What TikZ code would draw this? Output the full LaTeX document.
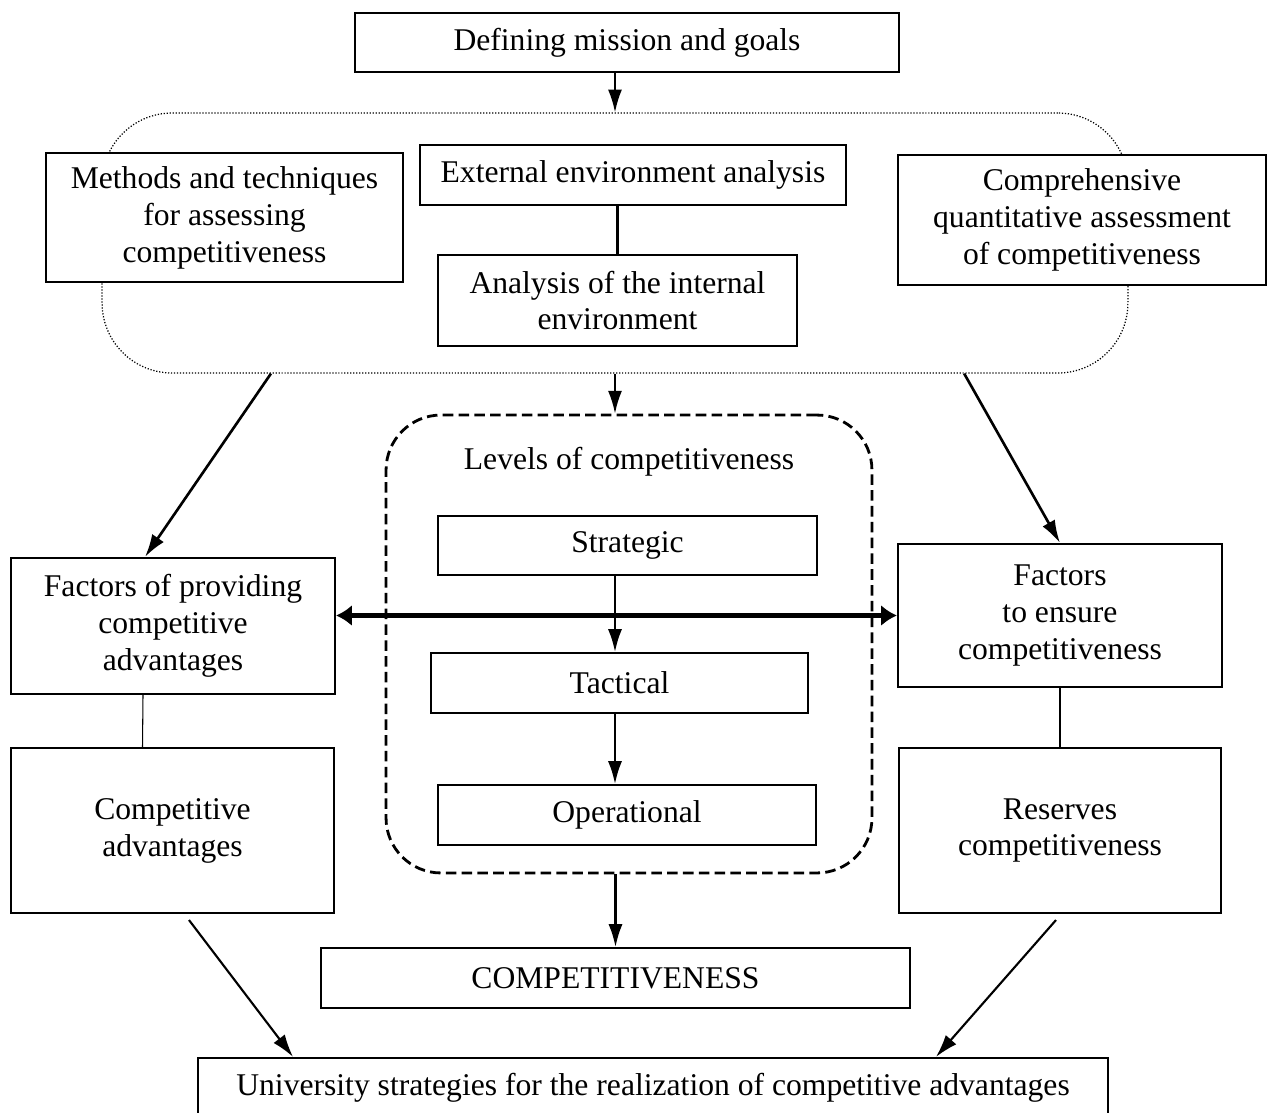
\documentclass[tikz,border=0pt]{standalone}
\usepackage{fontspec}
\setmainfont{Liberation Serif}
\usepackage{tikz}
\usetikzlibrary{shapes, arrows.meta, calc}

\begin{document}
\begin{tikzpicture}[-,>={Latex[length=13pt,width=8pt]},x=0.02cm,y=-0.02cm,
      line width=1.2pt,
      box node/.style={rectangle,draw,fill=white,align=center,inner sep=2pt,
        font=\fontsize{18}{21}\selectfont},
      group node/.style={rectangle,draw,rounded corners=1.4cm,densely dotted,line width=0.7pt},
      levels node/.style={rectangle,draw,rounded corners=1.1cm,dash pattern=on 6pt off 3pt,line width=1.6pt},
      other node/.style={font=\fontsize{18}{21}\selectfont}]

    \useasboundingbox (0,0) rectangle (1269,1113);

    % analysis block
    \node[group node,minimum width=20.52cm,minimum height=5.2cm] (analysis) at (615,243) {};
    \node[box node,minimum width=10.88cm,minimum height=1.18cm] (mission) at (627,42.5) {Defining mission and goals};
    \node[box node,minimum width=7.14cm,minimum height=2.58cm] (methods) at (224.5,217.5) {Methods and techniques\\for assessing\\competitiveness};
    \node[box node,minimum width=8.52cm,minimum height=1.2cm] (external) at (633,175) {External environment analysis};
    \node[box node,minimum width=7.18cm,minimum height=1.82cm] (internal) at (617.5,300.5) {Analysis of the internal\\environment};
    \node[box node,minimum width=7.36cm,minimum height=2.6cm] (assessment) at (1082,220) {Comprehensive\\quantitative assessment\\of competitiveness};

    % levels
    \node[levels node,minimum width=9.72cm,minimum height=9.16cm] (levels) at (629,644) {};
    \node[other node] (levtitle) at (629,462) {Levels of competitiveness};
    \node[box node,minimum width=7.58cm,minimum height=1.18cm] (strategic) at (627.5,545.5) {Strategic};
    \node[box node,minimum width=7.54cm,minimum height=1.2cm] (tactical) at (619.5,683) {Tactical};
    \node[box node,minimum width=7.56cm,minimum height=1.2cm] (operational) at (627,815) {Operational};

    % factors and results
    \node[box node,minimum width=6.48cm,minimum height=2.72cm] (factleft) at (173,626) {Factors of providing\\competitive\\advantages};
    \node[box node,minimum width=6.48cm,minimum height=2.86cm] (factright) at (1060,615.5) {Factors\\to ensure\\competitiveness};
    \node[box node,minimum width=6.46cm,minimum height=3.3cm] (advantages) at (172.5,830.5) {Competitive\\advantages};
    \node[box node,minimum width=6.44cm,minimum height=3.3cm] (reserves) at (1060,830.5) {Reserves\\competitiveness};
    \node[box node,minimum width=11.78cm,minimum height=1.2cm] (competitiveness) at (615.5,978) {COMPETITIVENESS};
    \node[box node,minimum width=18.2cm,minimum height=1.2cm] (university) at (653,1088) {University strategies for the realization of competitive advantages};

    \draw[->] (mission.south -| analysis.north) -- (analysis.north);
    \draw (internal.north |- external.south) -- (internal.north);
    \draw[->] (analysis.south) -- (analysis.south |- levels.north);
    \draw[->,line width=1.5pt] ($(analysis.south west)!0.165!(analysis.south east)$) -- ([xshift=-0.56cm]factleft.north);
    \draw[->,line width=1.5pt] ($(analysis.south west)!0.84!(analysis.south east)$) -- (factright.north);
    \draw[->] ([xshift=-0.09cm]tactical.north |- strategic.south) -- ([xshift=-0.09cm]tactical.north);
    \draw[->] ([xshift=-0.09cm]tactical.south) -- ([xshift=-0.09cm]tactical.south |- operational.north);
    \draw[->] (competitiveness.north |- levels.south) -- (competitiveness.north);
    \draw[<->,line width=2.3pt,>={Latex[length=9pt,width=12pt]}] (factleft.east |- factright.west) -- (factright.west);
    \draw[line width=0.6pt] ([xshift=-0.6cm]factleft.south) -- ([xshift=-0.6cm]advantages.north);
    \draw[line width=0.6pt] (factright.south) -- (reserves.north);
    \draw[->] ([xshift=0.33cm,yshift=-0.12cm]advantages.south) -- ([xshift=-7.2cm]university.north);
    \draw[->] ([xshift=-0.08cm,yshift=-0.12cm]reserves.south) -- ([xshift=5.66cm]university.north);
\end{tikzpicture}
\end{document}
